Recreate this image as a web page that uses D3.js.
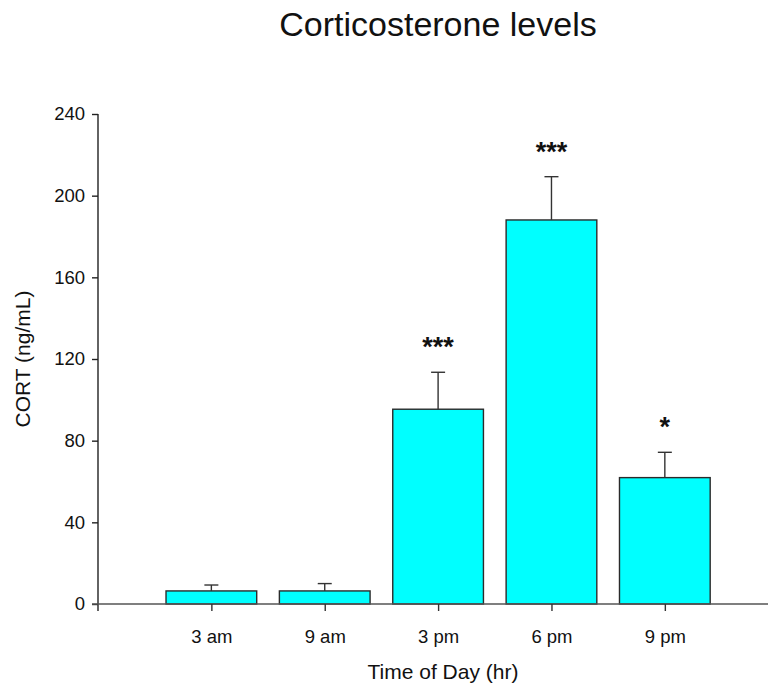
<!DOCTYPE html>
<html><head><meta charset="utf-8">
<script src="https://cdn.jsdelivr.net/npm/d3@7"></script>
<style>body{margin:0;background:#fff}svg{display:block}text{font-family:Arial,"Liberation Sans",sans-serif;fill:#111}</style>
</head><body>
<svg id="c" width="769" height="688"></svg>
<script>
const categories = ["3 am","9 am","3 pm","6 pm","9 pm"];
const means = [6.4, 6.4, 95.4, 188.1, 61.9];
const sems = [2.9, 3.6, 18.1, 21.2, 12.4];
const stars = ["", "", "***", "***", "*"];
const yTicks = [0,40,80,120,160,200,240];

const svg = d3.select("#c");
const x0 = 98, x1 = 768, yTop = 114, yBot = 604;
const x = d3.scaleLinear().domain([0, 5.91]).range([x0, x1]);
const y = d3.scaleLinear().domain([0, 240]).range([yBot, yTop]);
const barW = x(0.8) - x(0);

// bars
svg.selectAll("rect.bar").data(means).join("rect")
  .attr("x", (d,i)=>x(i+1)-barW/2).attr("y", d=>y(d))
  .attr("width", barW).attr("height", d=>y(0)-y(d))
  .attr("fill","#00ffff").attr("stroke","#2b2b2b").attr("stroke-width",1.4);

// error bars
const eg = svg.append("g").attr("stroke","#333").attr("stroke-width",1.4);
means.forEach((m,i)=>{
  const cx = x(i+1);
  eg.append("line").attr("x1",cx).attr("x2",cx).attr("y1",y(m)).attr("y2",y(m+sems[i]));
  eg.append("line").attr("x1",cx-7).attr("x2",cx+7).attr("y1",y(m+sems[i])).attr("y2",y(m+sems[i]));
});

// stars
svg.selectAll("text.star").data(stars).join("text")
  .attr("x",(d,i)=>x(i+1)).attr("y",(d,i)=>y(means[i]+sems[i])-16)
  .attr("text-anchor","middle").attr("font-size",27).attr("font-weight","bold").text(d=>d);

// y axis
const yAxis = svg.append("g").attr("transform",`translate(${x0},0)`)
  .call(d3.axisLeft(y).tickValues(yTicks).tickSize(6).tickPadding(7).tickSizeOuter(0));
yAxis.select(".domain").attr("stroke","#222").attr("stroke-width",1.4).attr("d",`M0,${yTop}V${yBot+7}`);
yAxis.selectAll(".tick line").attr("stroke","#222").attr("stroke-width",1.4);
yAxis.selectAll(".tick text").attr("font-size",18.5).attr("fill","#111").attr("font-family","Arial, Liberation Sans, sans-serif");

// x axis
const xAxis = svg.append("g").attr("transform",`translate(0,${yBot})`)
  .call(d3.axisBottom(x).tickValues([1,2,3,4,5]).tickFormat(i=>categories[i-1]).tickSize(7).tickPadding(19).tickSizeOuter(0));
xAxis.select(".domain").attr("stroke","#555").attr("stroke-width",1.4).attr("d",`M${x0-6},0H${x1}`);
xAxis.selectAll(".tick line").attr("stroke","#333").attr("stroke-width",1.4);
xAxis.selectAll(".tick text").attr("font-size",18.5).attr("fill","#111").attr("font-family","Arial, Liberation Sans, sans-serif");

// titles
svg.append("text").attr("x",438).attr("y",36).attr("text-anchor","middle").attr("font-size",34).text("Corticosterone levels");
svg.append("text").attr("x",443).attr("y",679).attr("text-anchor","middle").attr("font-size",21).text("Time of Day (hr)");
svg.append("text").attr("transform","translate(30,359) rotate(-90)").attr("text-anchor","middle").attr("font-size",21).text("CORT (ng/mL)");
</script>
</body></html>
